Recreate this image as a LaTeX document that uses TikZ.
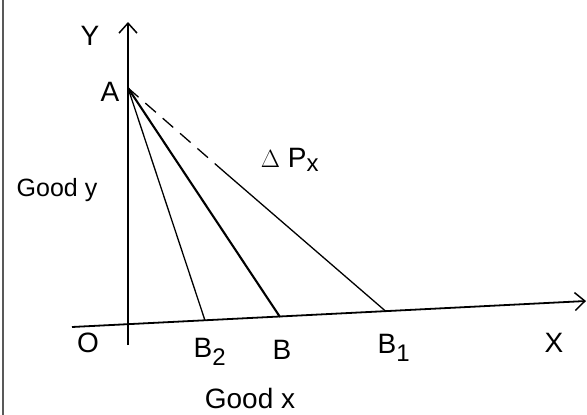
\documentclass[tikz,border=0pt]{standalone}
\usepackage{fontspec}
\setmainfont{Liberation Sans}
\usetikzlibrary{arrows.meta}
\begin{document}
\begin{tikzpicture}[x=1pt,y=-1pt,
  axisline/.style={line width=1.8pt,-{Straight Barb[length=10pt,width=18pt,line width=1.5pt]}},
  ray/.style={line width=1.3pt},
  mainray/.style={line width=2.1pt},
  lbl/.style={inner sep=1pt,font=\fontsize{28}{32}\selectfont},
  sublbl/.style={inner sep=1pt,font=\fontsize{25}{28}\selectfont}]
\useasboundingbox (0,0) rectangle (587,415);
\fill[white] (0,0) rectangle (587,415);
% left page border
\draw[line width=1.5pt,gray!70!black] (3,0) -- (3,415);
% axes
\coordinate (ybot) at (128,345);
\coordinate (ytop) at (128,22);
\coordinate (xl) at (72,327);
\coordinate (xr) at (586,301);
\draw[axisline] (ybot) -- (ytop);
\draw[axisline] (xl) -- (xr);
% points
\coordinate (A) at (128,88);
\coordinate (B2) at (205,320.5);
\coordinate (B) at (280,317);
\coordinate (B1) at (386,311.5);
\coordinate (D) at (225,172.5);
\draw[ray] (A) -- (B2);
\draw[mainray] (A) -- (B);
\draw[ray,dash pattern=on 14pt off 9pt] (A) -- (D);
\draw[ray] (D) -- (B1);
% labels
\node[lbl] (lY) at (90,36) {Y};
\node[lbl] (lA) at (110,92) {A};
\node[lbl] (lO) at (88,343) {O};
\node[lbl] (lB2) at (210,352) {B\textsubscript{\fontsize{24}{26}\selectfont 2}};
\node[lbl] (lB) at (282,350) {B};
\node[lbl] (lB1) at (394,348) {B\textsubscript{\fontsize{24}{26}\selectfont 1}};
\node[lbl] (lX) at (554,343) {X};
\node[lbl] (lDP) at (290,160) {$\Delta$ P\textsubscript{\fontsize{24}{26}\selectfont x}};
\node[sublbl] (lgy) at (57,190) {Good y};
\node[lbl] (lgx) at (250,398) {Good x};
\end{tikzpicture}
\end{document}
